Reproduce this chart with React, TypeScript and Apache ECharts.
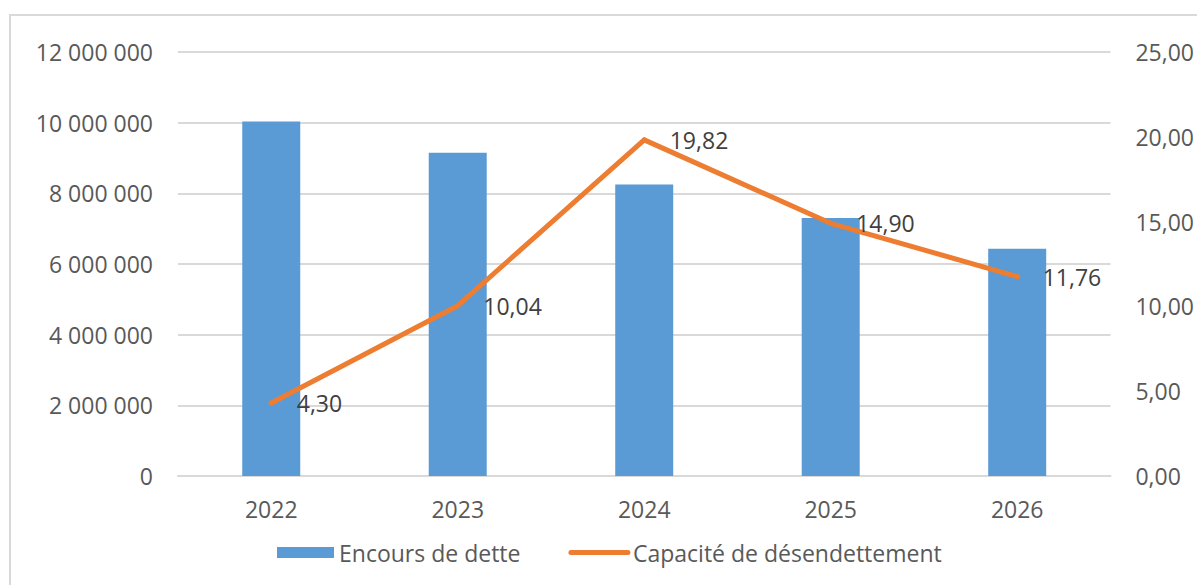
import React, { useEffect, useRef } from "react";
import * as echarts from "echarts";

const categories = ["2022", "2023", "2024", "2025", "2026"];
const encours = [10030000, 9150000, 8250000, 7300000, 6430000];
const capacite = [4.3, 10.04, 19.82, 14.9, 11.76];
const seriesNames = ["Encours de dette", "Capacité de désendettement"];

const FONT = "'Open Sans', 'Noto Sans', sans-serif";
const TEXT = "#595959";
const FS = 23;

const fmtThousands = (v: number) =>
  String(Math.round(v)).replace(/\B(?=(\d{3})+(?!\d))/g, " ");
const fmtDec = (v: number) => v.toFixed(2).replace(".", ",");

export default function App() {
  const ref = useRef<HTMLDivElement>(null);
  useEffect(() => {
    if (!ref.current) return;
    const chart = echarts.init(ref.current, null, { renderer: "svg" });
    chart.setOption({
      animation: false,
      backgroundColor: "#ffffff",
      textStyle: { fontFamily: FONT },
      graphic: [
        {
          type: "rect",
          shape: { x: 10, y: 15, width: 1300, height: 700 },
          style: { fill: "none", stroke: "#D9D9D9", lineWidth: 2 },
          silent: true,
          z: -10,
        },
      ],
      grid: { left: 178, right: 83, top: 52, bottom: 109 },
      legend: {
        left: 272,
        top: 536,
        itemWidth: 57,
        itemHeight: 11,
        itemGap: 48,
        itemTextGap: 6,
        lineStyle: { width: 5, cap: "round" },
        textStyle: { color: TEXT, fontSize: FS, fontFamily: FONT },
        data: [
          { name: seriesNames[0], icon: "rect" },
          { name: seriesNames[1], itemStyle: { opacity: 0 } },
        ],
      },
      xAxis: {
        type: "category",
        data: categories,
        axisTick: { show: false },
        axisLine: { lineStyle: { color: "#D9D9D9", width: 2 } },
        axisLabel: { color: TEXT, fontSize: FS, margin: 21, fontFamily: FONT },
      },
      yAxis: [
        {
          type: "value",
          min: 0,
          max: 12000000,
          interval: 2000000,
          axisLine: { show: false },
          axisTick: { show: false },
          splitLine: { lineStyle: { color: "#D9D9D9", width: 2 } },
          axisLabel: {
            color: TEXT,
            fontSize: FS,
            margin: 25,
            fontFamily: FONT,
            formatter: (v: number) => fmtThousands(v),
          },
        },
        {
          type: "value",
          min: 0,
          max: 25,
          interval: 5,
          axisLine: { show: false },
          axisTick: { show: false },
          splitLine: { show: false },
          axisLabel: {
            color: TEXT,
            fontSize: FS,
            margin: 25,
            fontFamily: FONT,
            formatter: (v: number) => fmtDec(v),
          },
        },
      ],
      series: [
        {
          name: seriesNames[0],
          type: "bar",
          data: encours,
          barWidth: 58,
          itemStyle: { color: "#5B9BD5" },
          yAxisIndex: 0,
        },
        {
          name: seriesNames[1],
          type: "line",
          data: capacite,
          yAxisIndex: 1,
          symbol: "circle",
          symbolSize: 5,
          showSymbol: true,
          lineStyle: { color: "#ED7D31", width: 5, cap: "round", join: "round" },
          itemStyle: { color: "#ED7D31" },
          label: {
            show: true,
            position: "right",
            distance: 23,
            color: "#404040",
            fontSize: FS,
            fontFamily: FONT,
            formatter: (p: any) => fmtDec(p.value),
          },
        },
      ],
    });
    return () => chart.dispose();
  }, []);
  return (
    <div
      ref={ref}
      style={{ position: "fixed", left: 0, top: 0, width: 1197, height: 585 }}
    />
  );
}
